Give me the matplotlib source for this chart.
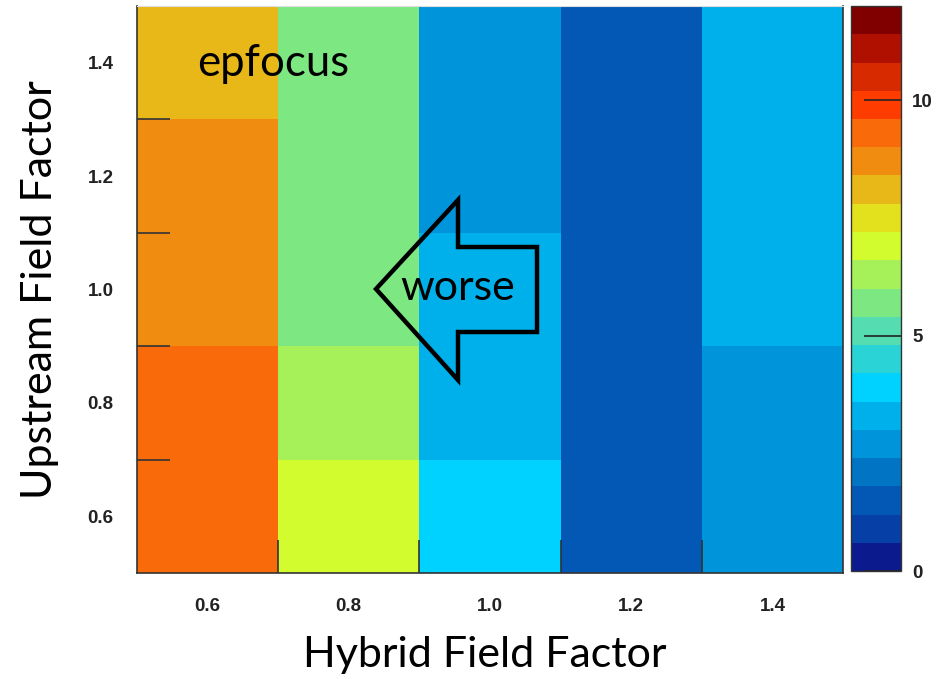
import numpy as np
import matplotlib
matplotlib.use("Agg")
import matplotlib.pyplot as plt
from matplotlib.colors import ListedColormap, BoundaryNorm
from matplotlib.patches import Polygon

# bin centres of the 2D histogram
hybrid = [0.6, 0.8, 1.0, 1.2, 1.4]
upstream = [0.6, 0.8, 1.0, 1.2, 1.4]
# values per bin, one list per hybrid column (bottom -> top in upstream)
col_06 = [9.3, 9.3, 8.7, 8.7, 8.1]
col_08 = [6.9, 6.3, 5.7, 5.7, 5.7]
col_10 = [3.9, 3.3, 3.3, 2.7, 2.7]
col_12 = [1.5, 1.5, 1.5, 1.5, 1.5]
col_14 = [2.7, 2.7, 3.3, 3.3, 3.3]
cbar_ticks = [0, 5, 10]

# ROOT-like 20 level palette, 0..12
palette = ["#0b1b8e", "#0640a6", "#0358b6", "#0274c4", "#0094da",
           "#00b0ea", "#00d2ff", "#2ad4d6", "#55dcb0", "#7de882",
           "#a6f05a", "#d2fc2e", "#e3e01e", "#e8b818", "#f08c10",
           "#f86a0a", "#ff3c00", "#d82a00", "#b01000", "#800000"]
levels = np.linspace(0, 12, 21)
cmap = ListedColormap(palette)
norm = BoundaryNorm(levels, cmap.N)

z = np.array([col_06, col_08, col_10, col_12, col_14]).T
x_edges = np.array(hybrid + [hybrid[-1] + 0.2]) - 0.1
y_edges = np.array(upstream + [upstream[-1] + 0.2]) - 0.1

W, H = 945, 679
fig = plt.figure(figsize=(W / 100, H / 100), dpi=100)
ax = fig.add_axes([137 / W, (H - 573) / H, 706 / W, 567 / H])
cax = fig.add_axes([851 / W, (H - 571) / H, 50 / W, 565 / H])

mesh = ax.pcolormesh(x_edges, y_edges, z, cmap=cmap, norm=norm)
ax.set_xlim(0.5, 1.5)
ax.set_ylim(0.5, 1.5)

# ticks at bin edges, labels at bin centres
tick_font = dict(family="Liberation Sans", weight="bold", size=13.5, color="#222222")
ax.set_xticks(x_edges[1:-1])
ax.set_yticks(y_edges[1:-1])
ax.set_xticklabels([])
ax.set_yticklabels([])
ax.set_xticks(hybrid, minor=True)
ax.set_yticks(upstream, minor=True)
ax.set_xticklabels([f"{v:.1f}" for v in hybrid], minor=True, fontdict=tick_font)
ax.set_yticklabels([f"{v:.1f}" for v in upstream], minor=True, fontdict=tick_font)
ax.tick_params(which="major", direction="in", length=24, width=1.2, color="#333333")
ax.tick_params(which="minor", length=0)
ax.tick_params(axis="x", which="minor", pad=18)
ax.tick_params(axis="y", which="minor", pad=17)
for side in ["left", "bottom", "right"]:
    ax.spines[side].set_color("#333333")
    ax.spines[side].set_linewidth(1.2)
ax.spines["top"].set_color("#dddddd")

cb = fig.colorbar(mesh, cax=cax, ticks=cbar_ticks)
cb.minorticks_off()
cb.outline.set_edgecolor("#333333")
cb.outline.set_linewidth(1.0)
cax.tick_params(direction="in", length=27, width=1.2, color="#222222", pad=8)
cax.set_yticklabels([str(t) for t in cbar_ticks], fontdict=tick_font)

# axis titles
title_font = dict(family="Lato", size=31, color="black")
fig.text(485 / W, 1 - 655 / H, "Hybrid Field Factor", ha="center", va="center", **title_font)
fig.text(40 / W, 1 - 290 / H, "Upstream Field Factor", ha="center", va="center",
         rotation=90, **title_font)

# annotations
ax.text((273 - 137) / 706, (573 - 63) / 567, "epfocus", transform=ax.transAxes,
        ha="center", va="center", family="Lato", size=31.5)
arrow_px = [(376, 289), (458, 200), (458, 247), (537, 247),
            (537, 332), (458, 332), (458, 380)]
arrow_ax = [((px - 137) / 706, (573 - py) / 567) for px, py in arrow_px]
ax.add_patch(Polygon(arrow_ax, closed=True, fill=False, edgecolor="black",
                     linewidth=3.2, joinstyle="miter", transform=ax.transAxes))
ax.text((458 - 137) / 706, (573 - 288) / 567, "worse", transform=ax.transAxes,
        ha="center", va="center", family="Lato", size=31)

fig.savefig("out.png", dpi=100, facecolor="white")
